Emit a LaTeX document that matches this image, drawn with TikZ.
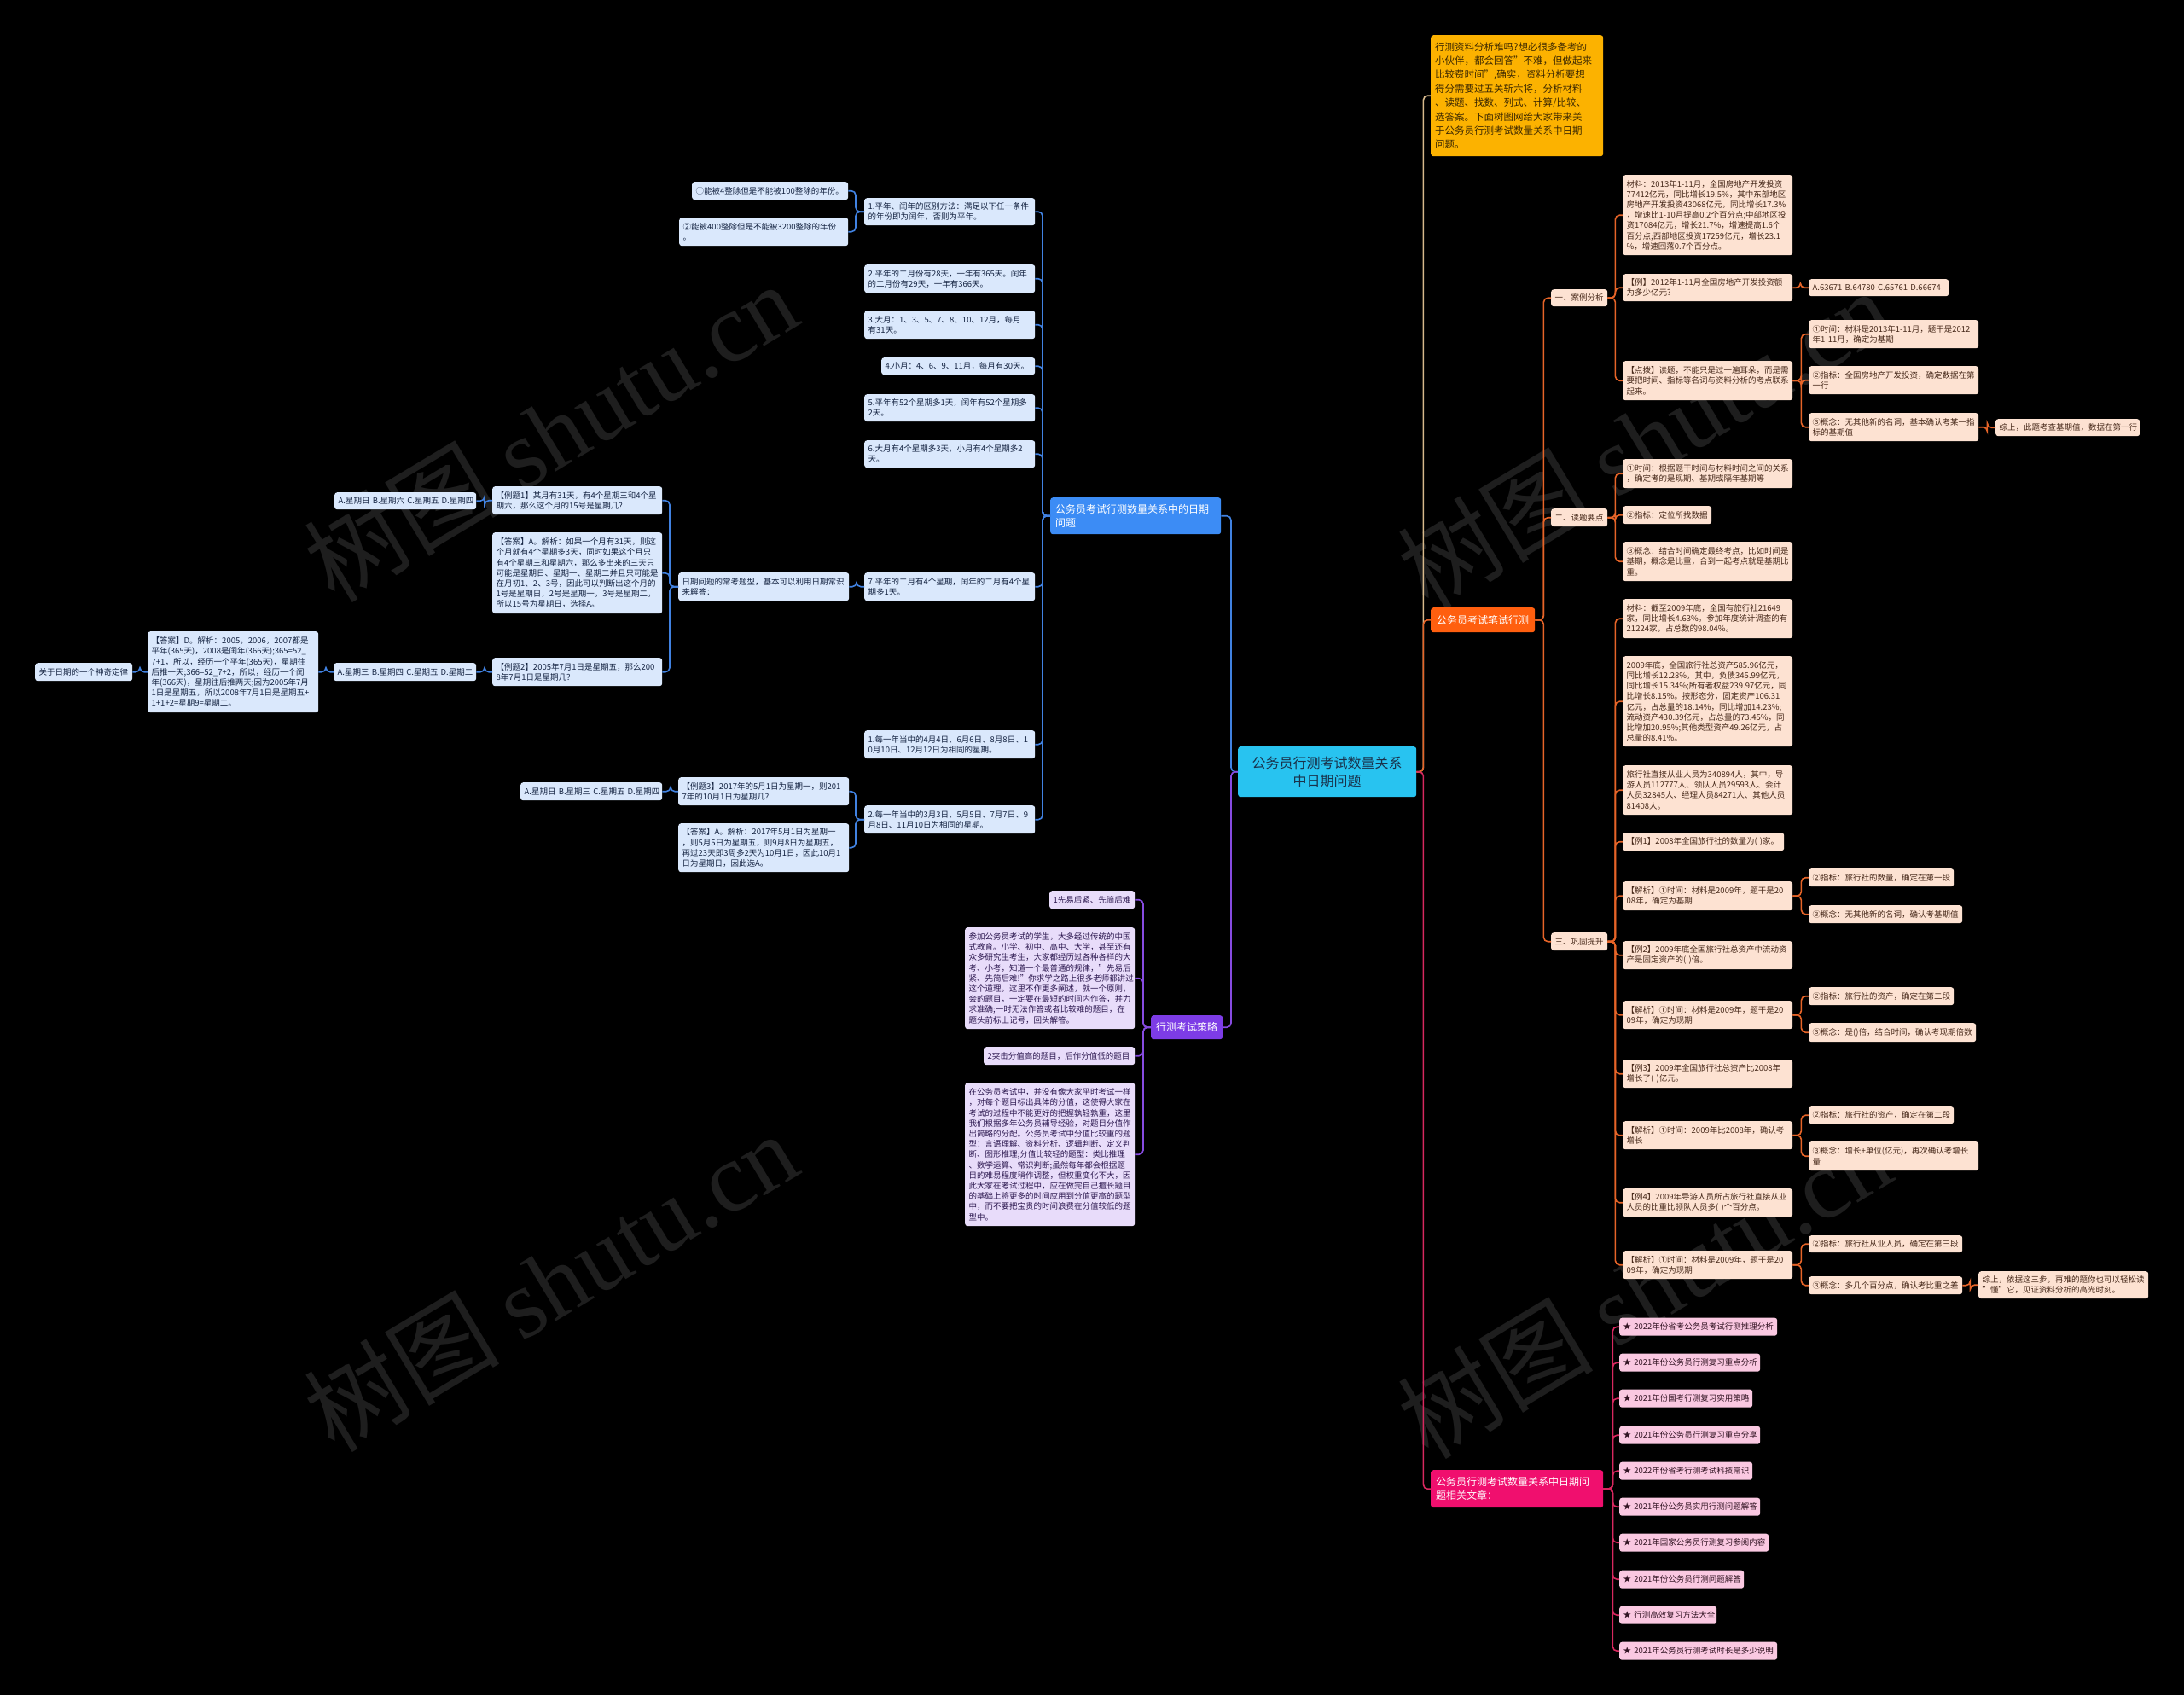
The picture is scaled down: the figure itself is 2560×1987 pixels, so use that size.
\documentclass[tikz,border=0pt]{standalone}
\usepackage{fontspec}
\setmainfont{Noto Sans CJK SC}
\newfontfamily\wmlat{Liberation Serif}
\definecolor{bline}{RGB}{65,130,225}
\definecolor{pline}{RGB}{135,75,225}
\definecolor{tline}{RGB}{215,185,140}
\definecolor{oline}{RGB}{230,100,40}
\definecolor{kline}{RGB}{215,40,95}
\definecolor{blf}{RGB}{218,232,252}
\definecolor{blt}{RGB}{20,35,65}
\definecolor{bhead}{RGB}{60,140,245}
\definecolor{phead}{RGB}{125,60,230}
\definecolor{plf}{RGB}{232,220,250}
\definecolor{plt}{RGB}{45,25,80}
\definecolor{cfill}{RGB}{40,195,240}
\definecolor{ctext}{RGB}{25,50,75}
\definecolor{ifill}{RGB}{252,178,0}
\definecolor{itext}{RGB}{60,40,0}
\definecolor{ohead}{RGB}{255,95,15}
\definecolor{olf}{RGB}{253,226,210}
\definecolor{olt}{RGB}{70,40,25}
\definecolor{khead}{RGB}{240,15,110}
\definecolor{klf}{RGB}{250,200,225}
\definecolor{klt}{RGB}{50,20,35}
\definecolor{wmc}{RGB}{30,30,30}
\newcommand{\leaffnt}{\fontsize{9.5}{12.2}\selectfont}
\newcommand{\headfnt}{\fontsize{12}{16}\selectfont}
\begin{document}
\begin{tikzpicture}[x=1pt,y=-1pt,
  base/.style={anchor=north west, rounded corners=3pt, inner xsep=4.5pt, inner ysep=1pt, align=left, font=\leaffnt},
  bl/.style={base, fill=blf, text=blt},
  pl/.style={base, fill=plf, text=plt},
  ol/.style={base, fill=olf, text=olt},
  kl/.style={base, fill=klf, text=klt},
  hd/.style={anchor=north west, rounded corners=3pt, inner xsep=6pt, inner ysep=1pt, font=\headfnt, text=white},
  cn/.style={line width=1.6pt, rounded corners=5pt},
  cb/.style={cn, draw=bline},
  cp/.style={cn, draw=pline},
  co/.style={cn, draw=oline},
  ck/.style={cn, draw=kline},
  wm/.style={rotate=31, text=wmc, font=\fontsize{115}{120}\selectfont}
]
\fill[black] (0,0) rectangle (2560,1987);
\useasboundingbox (0,0) rectangle (2560,1987);

% ---------- watermarks ----------
\node[wm] (wm1) at (645,506) {树图 {\wmlat shutu.cn}};
\node[wm] (wm2) at (645,1502) {树图 {\wmlat shutu.cn}};
\node[wm] (wm3) at (1927,514) {树图 {\wmlat shutu.cn}};
\node[wm] (wm4) at (1927,1510) {树图 {\wmlat shutu.cn}};

% ---------- center ----------
\node[anchor=north west, rounded corners=3pt, fill=cfill, text=ctext, minimum width=209pt, minimum height=59pt, align=center, font=\fontsize{16}{21}\selectfont] (c) at (1451,875) {公务员行测考试数量关系\\中日期问题};

% ---------- blue branch ----------
\node[hd, fill=bhead, align=left, text width=188pt, minimum height=43pt] (b0) at (1231,583) {公务员考试行测数量关系中的日期\\问题};
\node[bl, text width=191pt, minimum height=32pt] (b1) at (1013,232) {1.平年、闰年的区别方法：满足以下任一条件\\的年份即为闰年，否则为平年。};
\node[bl, text width=174pt, minimum height=21pt] (b1a) at (811,213) {①能被4整除但是不能被100整除的年份。};
\node[bl, text width=189pt, minimum height=33pt] (b1b) at (796,255) {②能被400整除但是不能被3200整除的年份\\。};
\node[bl, text width=191pt, minimum height=33pt] (b2) at (1013,310) {2.平年的二月份有28天，一年有365天。闰年\\的二月份有29天，一年有366天。};
\node[bl, text width=191pt, minimum height=33pt] (b3) at (1013,364) {3.大月：1、3、5、7、8、10、12月，每月\\有31天。};
\node[bl, text width=171pt, minimum height=20pt] (b4) at (1033,419) {4.小月：4、6、9、11月，每月有30天。};
\node[bl, text width=191pt, minimum height=32pt] (b5) at (1013,462) {5.平年有52个星期多1天，闰年有52个星期多\\2天。};
\node[bl, text width=191pt, minimum height=32pt] (b6) at (1013,516) {6.大月有4个星期多3天，小月有4个星期多2\\天。};
\node[bl, text width=191pt, minimum height=33pt] (b7) at (1013,671) {7.平年的二月有4个星期，闰年的二月有4个星\\期多1天。};
\node[bl, text width=191pt, minimum height=33pt] (b7a) at (795,671) {日期问题的常考题型，基本可以利用日期常识\\来解答：};
\node[bl, text width=190pt, minimum height=33pt] (b7a1) at (577,570) {【例题1】某月有31天，有4个星期三和4个星\\期六，那么这个月的15号是星期几?};
\node[bl, text width=157pt, minimum height=20pt] (b7a1a) at (392,577) {A.星期日~B.星期六~C.星期五~D.星期四};
\node[bl, text width=190pt, minimum height=95pt] (b7a2) at (577,624) {【答案】A。解析：如果一个月有31天，则这\\个月就有4个星期多3天，同时如果这个月只\\有4个星期三和星期六，那么多出来的三天只\\可能是星期日、星期一、星期二并且只可能是\\在月初1、2、3号，因此可以判断出这个月的\\1号是星期日，2号是星期一，3号是星期二，\\所以15号为星期日，选择A。};
\node[bl, text width=190pt, minimum height=33pt] (b7a3) at (577,771) {【例题2】2005年7月1日是星期五，那么200\\8年7月1日是星期几?};
\node[bl, text width=158pt, minimum height=21pt] (b7a3a) at (391,777) {A.星期三~B.星期四~C.星期五~D.星期二};
\node[bl, text width=191pt, minimum height=95pt] (b7a3b) at (173,740) {【答案】D。解析：2005，2006，2007都是\\平年(365天)，2008是闰年(366天);365=52\_\\7+1，所以，经历一个平年(365天)，星期往\\后推一天;366=52\_7+2，所以，经历一个闰\\年(366天)，星期往后推两天;因为2005年7月\\1日是星期五，所以2008年7月1日是星期五+\\1+1+2=星期9=星期二。};
\node[bl, text width=105pt, minimum height=21pt] (b7a3c) at (41,777) {关于日期的一个神奇定律};
\node[bl, text width=191pt, minimum height=33pt] (b8) at (1013,856) {1.每一年当中的4月4日、6月6日、8月8日、1\\0月10日、12月12日为相同的星期。};
\node[bl, text width=191pt, minimum height=33pt] (b9) at (1013,944) {2.每一年当中的3月3日、5月5日、7月7日、9\\月8日、11月10日为相同的星期。};
\node[bl, text width=191pt, minimum height=33pt] (b9a) at (795,911) {【例题3】2017年的5月1日为星期一，则201\\7年的10月1日为星期几?};
\node[bl, text width=157pt, minimum height=21pt] (b9a1) at (610,917) {A.星期日~B.星期三~C.星期五~D.星期四};
\node[bl, text width=191pt, minimum height=57pt] (b9b) at (795,965) {【答案】A。解析：2017年5月1日为星期一\\，则5月5日为星期五，则9月8日为星期五，\\再过23天即3周多2天为10月1日，因此10月1\\日为星期日，因此选A。};

% ---------- purple branch ----------
\node[hd, fill=phead, minimum width=84pt, minimum height=28pt, align=center] (p0) at (1349,1190) {行测考试策略};
\node[pl, text width=91pt, minimum height=21pt] (p1) at (1230,1044) {1先易后紧、先简后难};
\node[pl, text width=190pt, minimum height=119pt] (p2) at (1131,1087) {参加公务员考试的学生，大多经过传统的中国\\式教育。小学、初中、高中、大学，甚至还有\\众多研究生考生，大家都经历过各种各样的大\\考、小考，知道一个最普通的规律，"先易后\\紧、先简后难!"你求学之路上很多老师都讲过\\这个道理，这里不作更多阐述，就一个原则，\\会的题目，一定要在最短的时间内作答，并力\\求准确;一时无法作答或者比较难的题目，在\\题头前标上记号，回头解答。};
\node[pl, text width=168pt, minimum height=21pt] (p3) at (1153,1227) {2突击分值高的题目，后作分值低的题目};
\node[pl, text width=190pt, minimum height=168pt] (p4) at (1131,1269) {在公务员考试中，并没有像大家平时考试一样\\，对每个题目标出具体的分值，这使得大家在\\考试的过程中不能更好的把握孰轻孰重，这里\\我们根据多年公务员辅导经验，对题目分值作\\出简略的分配。公务员考试中分值比较重的题\\型：言语理解、资料分析、逻辑判断、定义判\\断、图形推理;分值比较轻的题型：类比推理\\、数学运算、常识判断;虽然每年都会根据题\\目的难易程度稍作调整，但权重变化不大，因\\此大家在考试过程中，应在做完自己擅长题目\\的基础上将更多的时间应用到分值更高的题型\\中，而不要把宝贵的时间浪费在分值较低的题\\型中。};

% ---------- right: intro ----------
\node[anchor=north west, rounded corners=3pt, fill=ifill, text=itext, inner xsep=5pt, inner ysep=1pt, text width=192pt, minimum height=142pt, align=left, font=\fontsize{11.5}{16.4}\selectfont] (r0) at (1677,41) {行测资料分析难吗?想必很多备考的\\小伙伴，都会回答"不难，但做起来\\比较费时间",确实，资料分析要想\\得分需要过五关斩六将，分析材料\\、读题、找数、列式、计算/比较、\\选答案。下面树图网给大家带来关\\于公务员行测考试数量关系中日期\\问题。};

% ---------- right: orange ----------
\node[hd, fill=ohead, minimum width=122pt, minimum height=29pt, align=center] (r1) at (1677,712) {公务员考试笔试行测};
\node[ol, minimum width=65pt, minimum height=20pt] (o1) at (1818,339) {一、案例分析};
\node[ol, minimum width=65pt, minimum height=21pt] (o2) at (1818,596) {二、读题要点};
\node[ol, minimum width=65pt, minimum height=21pt] (o3) at (1818,1093) {三、巩固提升};

\node[ol, text width=190pt, minimum height=94pt] (o1a) at (1902,205) {材料：2013年1-11月，全国房地产开发投资\\77412亿元，同比增长19.5\%，其中东部地区\\房地产开发投资43068亿元，同比增长17.3\%\\，增速比1-10月提高0.2个百分点;中部地区投\\资17084亿元，增长21.7\%，增速提高1.6个\\百分点;西部地区投资17259亿元，增长23.1\\\%，增速回落0.7个百分点。};
\node[ol, text width=190pt, minimum height=32pt] (o1b) at (1902,321) {【例】2012年1-11月全国房地产开发投资额\\为多少亿元?};
\node[ol, text width=155pt, minimum height=20pt] (o1b1) at (2120,327) {A.63671~B.64780~C.65761~D.66674};
\node[ol, text width=190pt, minimum height=46pt] (o1c) at (1902,423) {【点拨】读题，不能只是过一遍耳朵，而是需\\要把时间、指标等名词与资料分析的考点联系\\起来。};
\node[ol, text width=190pt, minimum height=33pt] (o1c1) at (2120,375) {①时间：材料是2013年1-11月，题干是2012\\年1-11月，确定为基期};
\node[ol, text width=190pt, minimum height=33pt] (o1c2) at (2120,429) {②指标：全国房地产开发投资，确定数据在第\\一行};
\node[ol, text width=190pt, minimum height=33pt] (o1c3) at (2120,484) {③概念：无其他新的名词，基本确认考某一指\\标的基期值};
\node[ol, text width=160pt, minimum height=20pt] (o1c3a) at (2339,491) {综上，此题考查基期值，数据在第一行};

\node[ol, text width=190pt, minimum height=34pt] (o2a) at (1902,538) {①时间：根据题干时间与材料时间之间的关系\\，确定考的是现期、基期或隔年基期等};
\node[ol, text width=95pt, minimum height=21pt] (o2b) at (1902,593) {②指标：定位所找数据};
\node[ol, text width=190pt, minimum height=46pt] (o2c) at (1902,635) {③概念：结合时间确定最终考点，比如时间是\\基期，概念是比重，合到一起考点就是基期比\\重。};

\node[ol, text width=190pt, minimum height=46pt] (o3a) at (1902,702) {材料：截至2009年底，全国有旅行社21649\\家，同比增长4.63\%。参加年度统计调查的有\\21224家，占总数的98.04\%。};
\node[ol, text width=190pt, minimum height=106pt] (o3b) at (1902,769) {2009年底，全国旅行社总资产585.96亿元，\\同比增长12.28\%，其中，负债345.99亿元，\\同比增长15.34\%;所有者权益239.97亿元，同\\比增长8.15\%。按形态分，固定资产106.31\\亿元，占总量的18.14\%，同比增加14.23\%;\\流动资产430.39亿元，占总量的73.45\%，同\\比增加20.95\%;其他类型资产49.26亿元，占\\总量的8.41\%。};
\node[ol, text width=190pt, minimum height=58pt] (o3c) at (1902,897) {旅行社直接从业人员为340894人，其中，导\\游人员112777人、领队人员29593人、会计\\人员32845人、经理人员84271人、其他人员\\81408人。};
\node[ol, text width=180pt, minimum height=21pt] (o3d) at (1902,976) {【例1】2008年全国旅行社的数量为(~)家。};
\node[ol, text width=190pt, minimum height=34pt] (o3e) at (1902,1033) {【解析】①时间：材料是2009年，题干是20\\08年，确定为基期};
\node[ol, text width=161pt, minimum height=21pt] (o3e1) at (2120,1018) {②指标：旅行社的数量，确定在第一段};
\node[ol, text width=171pt, minimum height=21pt] (o3e2) at (2120,1061) {③概念：无其他新的名词，确认考基期值};
\node[ol, text width=190pt, minimum height=33pt] (o3f) at (1902,1103) {【例2】2009年底全国旅行社总资产中流动资\\产是固定资产的(~)倍。};
\node[ol, text width=190pt, minimum height=33pt] (o3g) at (1902,1173) {【解析】①时间：材料是2009年，题干是20\\09年，确定为现期};
\node[ol, text width=161pt, minimum height=21pt] (o3g1) at (2120,1157) {②指标：旅行社的资产，确定在第二段};
\node[ol, text width=187pt, minimum height=22pt] (o3g2) at (2120,1199) {③概念：是()倍，结合时间，确认考现期倍数};
\node[ol, text width=190pt, minimum height=33pt] (o3h) at (1902,1242) {【例3】2009年全国旅行社总资产比2008年\\增长了(~)亿元。};
\node[ol, text width=190pt, minimum height=33pt] (o3i) at (1902,1314) {【解析】①时间：2009年比2008年，确认考\\增长};
\node[ol, text width=161pt, minimum height=20pt] (o3i1) at (2120,1297) {②指标：旅行社的资产，确定在第二段};
\node[ol, text width=190pt, minimum height=34pt] (o3i2) at (2120,1338) {③概念：增长+单位(亿元)，再次确认考增长\\量};
\node[ol, text width=190pt, minimum height=33pt] (o3j) at (1902,1393) {【例4】2009年导游人员所占旅行社直接从业\\人员的比重比领队人员多(~)个百分点。};
\node[ol, text width=190pt, minimum height=33pt] (o3k) at (1902,1466) {【解析】①时间：材料是2009年，题干是20\\09年，确定为现期};
\node[ol, text width=171pt, minimum height=20pt] (o3k1) at (2120,1448) {②指标：旅行社从业人员，确定在第三段};
\node[ol, text width=171pt, minimum height=21pt] (o3k2) at (2120,1496) {③概念：多几个百分点，确认考比重之差};
\node[ol, text width=190pt, minimum height=32pt] (o3k2a) at (2319,1490) {综上，依据这三步，再难的题你也可以轻松读\\"懂"它，见证资料分析的高光时刻。};

% ---------- right: pink ----------
\node[hd, fill=khead, align=left, text width=190pt, minimum height=44pt] (r2) at (1677,1723) {公务员行测考试数量关系中日期问\\题相关文章：};
\node[kl, text width=176pt, minimum height=21pt] (k1) at (1898,1544.5) {★~2022年份省考公务员考试行测推理分析};
\node[kl, text width=156pt, minimum height=21pt] (k2) at (1898,1586.5) {★~2021年份公务员行测复习重点分析};
\node[kl, text width=147pt, minimum height=21pt] (k3) at (1898,1628.5) {★~2021年份国考行测复习实用策略};
\node[kl, text width=156pt, minimum height=21pt] (k4) at (1898,1671.5) {★~2021年份公务员行测复习重点分享};
\node[kl, text width=147pt, minimum height=21pt] (k5) at (1898,1713.5) {★~2022年份省考行测考试科技常识};
\node[kl, text width=156pt, minimum height=21pt] (k6) at (1898,1755.5) {★~2021年份公务员实用行测问题解答};
\node[kl, text width=166pt, minimum height=21pt] (k7) at (1898,1797.5) {★~2021年国家公务员行测复习参阅内容};
\node[kl, text width=137pt, minimum height=21pt] (k8) at (1898,1840.5) {★~2021年份公务员行测问题解答};
\node[kl, text width=105pt, minimum height=21pt] (k9) at (1898,1882.5) {★~行测高效复习方法大全};
\node[kl, text width=176pt, minimum height=21pt] (k10) at (1898,1924.5) {★~2021年公务员行测考试时长是多少说明};

% ---------- connectors ----------
\draw[cb] (c.west) -- ++(-8,0) |- (b0.east);
\draw[cp] (c.west) -- ++(-8,0) |- (p0.east);
\foreach \n in {b1,b2,b3,b4,b5,b6,b7,b8,b9} \draw[cb] (b0.west) -- ++(-9,0) |- (\n.east);
\foreach \n in {b1a,b1b} \draw[cb] (b1.west) -- ++(-10,0) |- (\n.east);
\draw[cb] (b7.west) -- ++(-9,0) |- (b7a.east);
\foreach \n in {b7a1,b7a2,b7a3} \draw[cb] (b7a.west) -- ++(-10,0) |- (\n.east);
\draw[cb] (b7a1.west) -- ++(-9,0) |- (b7a1a.east);
\draw[cb] (b7a3.west) -- ++(-9,0) |- (b7a3a.east);
\draw[cb] (b7a3a.west) -- ++(-9,0) |- (b7a3b.east);
\draw[cb] (b7a3b.west) -- ++(-9,0) |- (b7a3c.east);
\foreach \n in {b9a,b9b} \draw[cb] (b9.west) -- ++(-10,0) |- (\n.east);
\draw[cb] (b9a.west) -- ++(-9,0) |- (b9a1.east);
\foreach \n in {p1,p2,p3,p4} \draw[cp] (p0.west) -- ++(-9,0) |- (\n.east);

\draw[cn, draw=tline] (c.east) -- ++(8,0) |- (r0.west);
\draw[cn, draw=oline] (c.east) -- ++(8,0) |- (r1.west);
\draw[ck] (c.east) -- ++(8,0) |- (r2.west);
\foreach \n in {o1,o2,o3} \draw[co] (r1.east) -- ++(10,0) |- (\n.west);
\foreach \n in {o1a,o1b,o1c} \draw[co] (o1.east) -- ++(9,0) |- (\n.west);
\draw[co] (o1b.east) -- ++(9,0) |- (o1b1.west);
\foreach \n in {o1c1,o1c2,o1c3} \draw[co] (o1c.east) -- ++(10,0) |- (\n.west);
\draw[co] (o1c3.east) -- ++(10,0) |- (o1c3a.west);
\foreach \n in {o2a,o2b,o2c} \draw[co] (o2.east) -- ++(9,0) |- (\n.west);
\foreach \n in {o3a,o3b,o3c,o3d,o3e,o3f,o3g,o3h,o3i,o3j,o3k} \draw[co] (o3.east) -- ++(9,0) |- (\n.west);
\foreach \n in {o3e1,o3e2} \draw[co] (o3e.east) -- ++(10,0) |- (\n.west);
\foreach \n in {o3g1,o3g2} \draw[co] (o3g.east) -- ++(10,0) |- (\n.west);
\foreach \n in {o3i1,o3i2} \draw[co] (o3i.east) -- ++(10,0) |- (\n.west);
\foreach \n in {o3k1,o3k2} \draw[co] (o3k.east) -- ++(10,0) |- (\n.west);
\draw[co] (o3k2.east) -- ++(9,0) |- (o3k2a.west);
\foreach \n in {k1,k2,k3,k4,k5,k6,k7,k8,k9,k10} \draw[ck] (r2.east) -- ++(11,0) |- (\n.west);
\end{tikzpicture}
\end{document}
